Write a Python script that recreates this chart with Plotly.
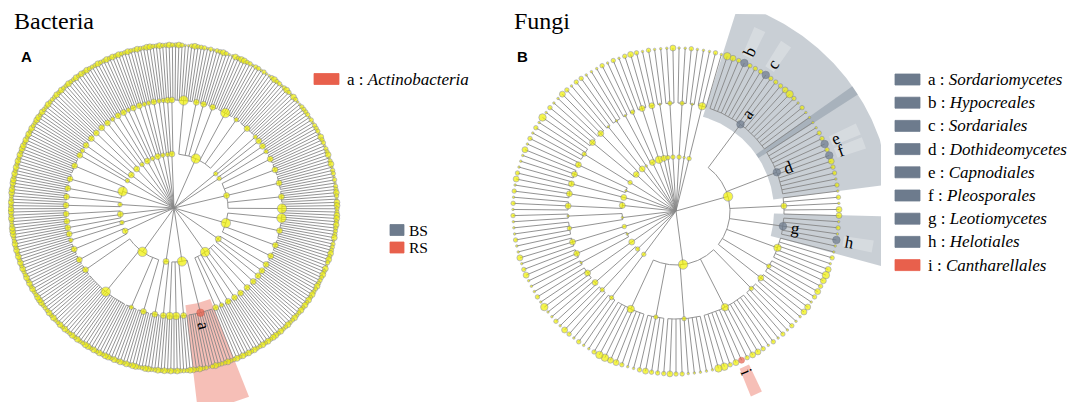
import math
import plotly.graph_objects as go

# One string per class, grouped by phylum; every character is the abundance
# class (1 = tiny ... 5 = largest) of one outermost taxon.
BAC_LEAF_ABUND = [
    ["232112322", "212", "1223", "21132", "33221221", "2112", "322123213"],
    ["21", "122"],
    ["221", "212"],
    ["22132", "212231", "2312212", "122321", "33223"],
    ["3232", "22312223", "232132", "32223"],
    ["2232", "323", "232"],
    ["2322", "3223", "2332", "323", "2232", "323", "232"],
    ["232223212232", "3322", "232", "323"],
    ["232", "23322"],
    ["332323", "232332", "3232332232322323223232", "223332"],
    ["23232", "322323"],
    ["232", "323"],
    ["223", "332", "2323"],
    ["3232", "2332"],
    ["3323", "23232", "32332323"],
    ["232", "23"],
    ["3232", "2322"],
    ["232", "3223"],
    ["223", "232"],
    ["322", "232"],
    ["23", "232"],
    ["322", "32"],
    ["23", "223"],
    ["32", "23"],
    ["22", "32"],
]
BAC_CLASS_ABUND = [
    [5, 3, 3, 3, 5, 2, 3], [2, 3], [3, 2], [3, 3, 3, 3, 5], [5, 3, 3, 3],
    [3, 3, 3], [3, 3, 3, 3, 3, 2, 3], [4, 3, 4, 4], [3, 3], [3, 2, 5, 3],
    [3, 3], [2, 3], [3, 3, 3], [3, 3], [3, 3, 3], [3, 2], [3, 3], [3, 3],
    [3, 2], [3, 3], [2, 3], [3, 2], [2, 3], [2, 2], [3, 3],
]
BAC_PHYLUM_ABUND = [5, 2, 2, 3, 5, 3, 5, 5, 3, 5, 3, 2, 3, 2, 5, 2, 3, 3, 2, 3, 2, 3, 2, 2, 3]
# (letter, taxon, enriched group, path: phylum index, class index[, leaf index])
BAC_MARKERS = [("a", "Actinobacteria", "RS", (7, 0))]

FUN_LEAF_ABUND = [
    ["112"],
    ["11"],
    ["121"],
    ["432422242223421211", "112242432212", "12133", "12141", "121343", "2321", "331"],
    ["1212", "121233233244", "111112232", "22321", "12334421"],
    ["121"],
    ["231", "21"],
    ["1412"],
    ["11", "132"],
    ["131"],
    ["1211", "12"],
    ["121", "213"],
    ["21"],
    ["113", "12"],
    ["1214"],
    ["121", "132"],
    ["12"],
    ["211"],
    ["12", "12"],
    ["123"],
    ["21"],
    ["21"],
    ["113"],
]
FUN_CLASS_ABUND = [
    [2], [1], [4],
    [4, 4, 3, 4, 4, 2, 3],
    [2, 4, 2, 2, 4],
    [2], [2, 3], [3], [1, 3], [3], [2, 1], [3, 3], [3], [3, 3], [2], [3, 3],
    [1], [1], [1, 2], [3], [3], [1], [2],
]
FUN_PHYLUM_ABUND = [2, 1, 2, 5, 5, 2, 2, 3, 1, 2, 1, 3, 3, 1, 2, 3, 3, 1, 3, 4, 3, 2, 2]
FUN_MARKERS = [
    ("a", "Sordariomycetes", "BS", (3, 0)),
    ("b", "Hypocreales", "BS", (3, 0, 3)),
    ("c", "Sordariales", "BS", (3, 0, 7)),
    ("d", "Dothideomycetes", "BS", (3, 1)),
    ("e", "Capnodiales", "BS", (3, 1, 4)),
    ("f", "Pleosporales", "BS", (3, 1, 6)),
    ("g", "Leotiomycetes", "BS", (3, 3)),
    ("h", "Helotiales", "BS", (3, 3, 3)),
    ("i", "Cantharellales", "RS", (4, 1, 7)),
]
GROUPS = ["BS", "RS"]

# styles
GROUP_COLORS = {"BS": "#6d7b8d", "RS": "#e8604c"}
WEDGE_COLORS = {"BS": "rgba(120,134,150,0.40)", "RS": "rgba(232,96,76,0.40)"}
LEVEL_R = [0, 54, 108, 163]
DOT_SIZE = {1: 2.5, 2: 4.5, 3: 6.0, 4: 7.5, 5: 9.5}
SERIF = "Liberation Serif"


def polar(cx, cy, r, t):
    a = math.radians(t)
    return cx + r * math.sin(a), cy - r * math.cos(a)


def layout_tree(leaf_abund, class_abund, phylum_abund):
    n = sum(len(s) for ph in leaf_abund for s in ph)
    step = 360.0 / n
    nodes, spans = {}, {}
    k = 0
    for i, ph in enumerate(leaf_abund):
        p0 = k
        for j, s in enumerate(ph):
            c0 = k
            for m, ch in enumerate(s):
                nodes[(i, j, m)] = ((k + 0.5) * step, 3, int(ch))
                spans[(i, j, m)] = (k * step, (k + 1) * step)
                k += 1
            nodes[(i, j)] = ((c0 + k) / 2 * step, 2, class_abund[i][j])
            spans[(i, j)] = (c0 * step, k * step)
        nodes[(i,)] = ((p0 + k) / 2 * step, 1, phylum_abund[i])
        spans[(i,)] = (p0 * step, k * step)
    return nodes, spans, step


def branch_lines(nodes, cx, cy):
    xs, ys = [], []
    children = {}
    for path, (t, lev, _) in nodes.items():
        children.setdefault(path[:-1], []).append(t)
        for r in (LEVEL_R[lev - 1], LEVEL_R[lev]):
            x, y = polar(cx, cy, r, t)
            xs.append(x)
            ys.append(y)
        xs.append(None)
        ys.append(None)
    # arc at the parent's radius joining its children
    for parent, ts in children.items():
        if not parent or len(ts) < 2:
            continue
        r = LEVEL_R[len(parent)]
        t0, t1 = min(ts), max(ts)
        steps = max(2, int((t1 - t0) / 0.5) + 1)
        for q in range(steps + 1):
            x, y = polar(cx, cy, r, t0 + (t1 - t0) * q / steps)
            xs.append(x)
            ys.append(y)
        xs.append(None)
        ys.append(None)
    return xs, ys


def sector(cx, cy, r0, r1, t0, t1, xmax=None, ymin=None):
    steps = max(4, int((t1 - t0) / 0.5) + 1)
    ts = [t0 + (t1 - t0) * q / steps for q in range(steps + 1)]
    pts = [polar(cx, cy, r1, t) for t in ts] + [polar(cx, cy, r0, t) for t in reversed(ts)]
    xs = [min(p[0], xmax) if xmax else p[0] for p in pts]
    ys = [max(p[1], ymin) if ymin else p[1] for p in pts]
    return xs + [xs[0]], ys + [ys[0]]


def add_tree(fig, data, markers, cx, cy, r_out, xmax=None, ymin=None):
    nodes, spans, step = layout_tree(*data)
    marked = {m[3]: m for m in markers}

    # clade shading
    for letter, name, grp, path in markers:
        t0, t1 = spans[path]
        if len(path) == 2:
            pad = 0.6 * step
            xs, ys = sector(cx, cy, 98, r_out, t0 - pad, t1 + pad, xmax, ymin)
            fig.add_trace(go.Scatter(x=xs, y=ys, mode="lines", fill="toself",
                                     fillcolor=WEDGE_COLORS[grp], line=dict(width=0),
                                     hoverinfo="skip"))
    for letter, name, grp, path in markers:
        t0, t1 = spans[path]
        if len(path) == 3:
            tm, half = (t0 + t1) / 2, 0.8 * step
            col = "rgba(255,255,255,0.25)" if grp == "BS" else WEDGE_COLORS[grp]
            xs, ys = sector(cx, cy, 170, 200, tm - half, tm + half)
            fig.add_trace(go.Scatter(x=xs, y=ys, mode="lines", fill="toself",
                                     fillcolor=col, line=dict(width=0), hoverinfo="skip"))

    xs, ys = branch_lines(nodes, cx, cy)
    fig.add_trace(go.Scatter(x=xs, y=ys, mode="lines",
                             line=dict(color="#878787", width=0.9), hoverinfo="skip"))

    px, py, size, fill, edge = [], [], [], [], []
    for lev in (3, 2, 1):
        for path, (t, l, ab) in nodes.items():
            if l != lev:
                continue
            x, y = polar(cx, cy, LEVEL_R[l], t)
            px.append(x)
            py.append(y)
            size.append(DOT_SIZE[ab])
            if path in marked:
                grp = marked[path][2]
                fill.append(GROUP_COLORS[grp])
                edge.append("#55606e" if grp == "BS" else "#c9503e")
            else:
                fill.append("#f0f000")
                edge.append("#6f70a0")
    fig.add_trace(go.Scatter(x=px, y=py, mode="markers", hoverinfo="skip",
                             marker=dict(size=size, color=fill,
                                         line=dict(color=edge, width=0.6))))

    for letter, name, grp, path in markers:
        t = nodes[path][0]
        r = 121 if len(path) == 2 else 176
        x, y = polar(cx, cy, r, t)
        fig.add_annotation(x=x, y=y, text=letter, showarrow=False, textangle=t - 90,
                           font=dict(family=SERIF, size=17, color="black"))


fig = go.Figure()
add_tree(fig, (BAC_LEAF_ABUND, BAC_CLASS_ABUND, BAC_PHYLUM_ABUND), BAC_MARKERS,
         166, 200, 203)
add_tree(fig, (FUN_LEAF_ABUND, FUN_CLASS_ABUND, FUN_PHYLUM_ABUND), FUN_MARKERS,
         668, 203, 216, xmax=873, ymin=6)


def legend_row(x, y, w, h, color, text, size, gap=7):
    fig.add_shape(type="rect", x0=x, x1=x + w, y0=y - h / 2, y1=y + h / 2,
                  fillcolor=color, line=dict(color=color, width=0.8))
    fig.add_annotation(x=x + w + gap, y=y, text=text, showarrow=False, xanchor="left",
                       yanchor="middle", borderpad=0,
                       font=dict(family=SERIF, size=size, color="black"))


for k, (letter, name, grp, _) in enumerate(BAC_MARKERS):
    legend_row(306, 71 + 23 * k, 25, 11, GROUP_COLORS[grp], f"{letter} : <i>{name}</i>", 17)
for k, grp in enumerate(GROUPS):
    legend_row(382, 222 + 17.5 * k, 14, 11, GROUP_COLORS[grp], grp, 15.5, gap=4)
for k, (letter, name, grp, _) in enumerate(FUN_MARKERS):
    legend_row(887, 71.5 + 23.2 * k, 25, 11, GROUP_COLORS[grp], f"{letter} : <i>{name}</i>", 17)

for x, txt in ((4, "Bacteria"), (504, "Fungi")):
    fig.add_annotation(x=x, y=13, text=txt, showarrow=False, xanchor="left", yanchor="middle",
                       font=dict(family=SERIF, size=24, color="black"))
for x, txt in ((18, "A"), (514, "B")):
    fig.add_annotation(x=x, y=48, text=f"<b>{txt}</b>", showarrow=False,
                       font=dict(family="Liberation Sans", size=15, color="black"))

fig.update_layout(
    width=1084, height=402, margin=dict(l=0, r=0, t=0, b=0),
    paper_bgcolor="white", plot_bgcolor="white", showlegend=False,
    xaxis=dict(range=[0, 1084], visible=False, fixedrange=True),
    yaxis=dict(range=[402, 0], visible=False, fixedrange=True),
)
fig.write_html("out.html")
